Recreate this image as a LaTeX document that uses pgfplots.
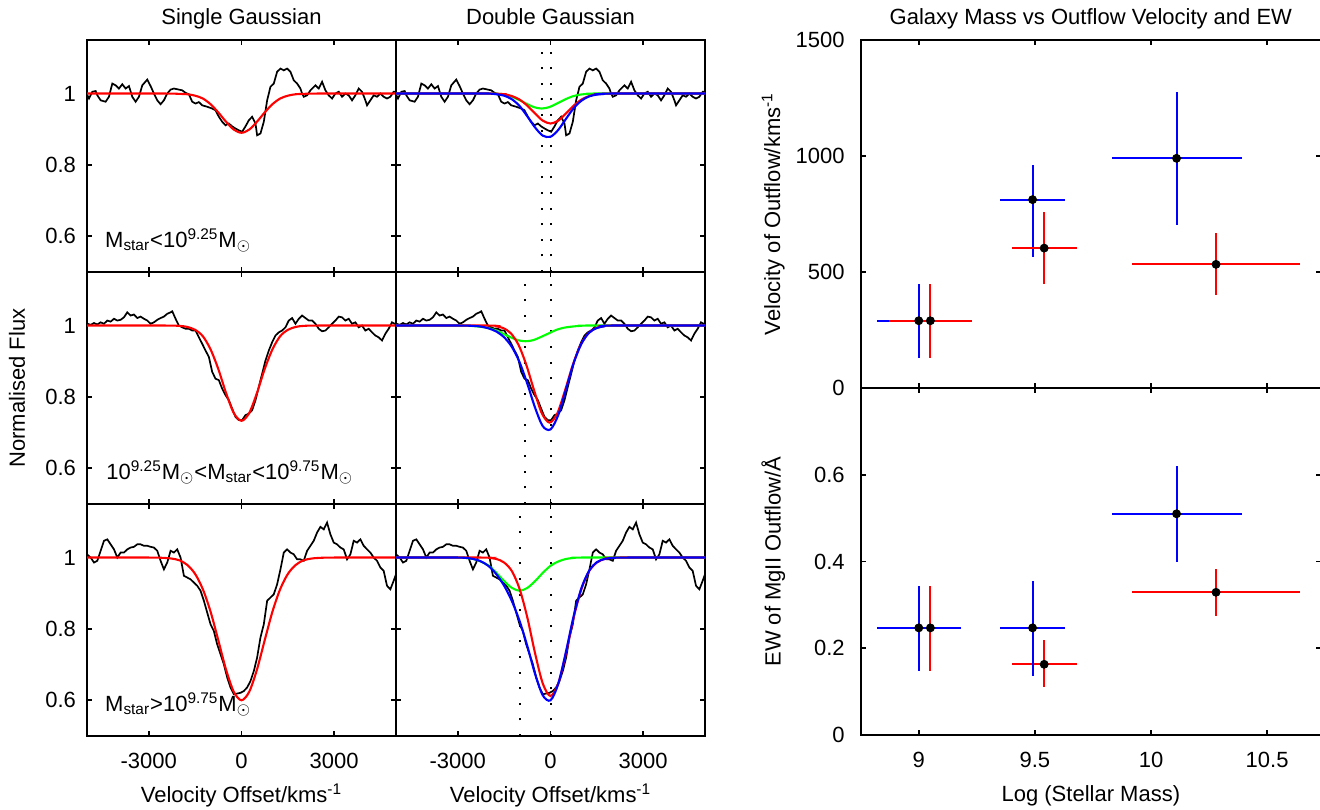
\documentclass[border=0pt]{standalone}
\usepackage{fontspec}
\setmainfont{Liberation Sans}
\usepackage{pgfplots}
\usepackage{pgfplotstable}
\pgfplotsset{compat=1.18}

% ---------------- spectra ----------------
\pgfplotstableread{
v f
-5000 0.997
-4935 0.986
-4828 1.005
-4720 1.007
-4666 0.995
-4558 0.981
-4397 0.977
-4289 0.991
-4181 1.028
-4073 1.023
-3966 1.014
-3858 1.026
-3750 1.014
-3642 1.021
-3535 0.991
-3427 0.977
-3319 0.991
-3211 1.023
-3050 1.039
-2942 1.021
-2834 1.000
-2726 0.981
-2619 0.970
-2511 0.981
-2403 1.000
-2295 1.011
-2188 1.014
-2026 1.011
-1918 1.009
-1810 1.002
-1703 0.998
-1595 0.977
-1487 0.972
-1379 0.976
-1272 0.967
-1110 0.963
-948 0.958
-841 0.953
-733 0.935
-625 0.921
-517 0.911
-409 0.916
-302 0.908
-194 0.902
-86 0.897
22 0.893
129 0.908
237 0.925
345 0.935
453 0.916
506 0.883
614 0.888
722 0.921
830 0.981
938 1.019
1045 1.028
1153 1.061
1261 1.070
1369 1.065
1476 1.070
1584 1.061
1692 1.037
1800 1.028
1907 1.014
1961 1.000
2015 0.991
2123 0.995
2231 1.009
2392 1.023
2500 1.014
2608 1.033
2716 1.009
2823 0.995
2931 0.986
3039 1.000
3147 1.005
3254 0.991
3362 1.000
3470 0.995
3578 0.981
3685 0.995
3793 1.014
3901 1.005
4009 0.981
4063 0.967
4170 0.981
4278 0.995
4386 0.991
4494 1.000
4601 0.991
4709 0.986
4817 0.991
4925 1.005
5000 1.005
}\specA

\pgfplotstableread{
v f
-4989 1.005
-4882 1.002
-4774 1.007
-4666 1.003
-4558 1.009
-4450 1.005
-4343 1.014
-4235 1.011
-4127 1.019
-4019 1.014
-3912 1.016
-3804 1.023
-3696 1.037
-3588 1.028
-3481 1.031
-3373 1.021
-3265 1.025
-3157 1.019
-3050 1.014
-2942 1.005
-2834 1.009
-2726 1.016
-2619 1.021
-2511 1.025
-2403 1.033
-2295 1.037
-2241 1.040
-2134 1.019
-2026 1.000
-1918 0.995
-1810 0.991
-1703 0.991
-1595 0.986
-1487 0.986
-1379 0.967
-1272 0.949
-1164 0.930
-1056 0.912
-948 0.870
-841 0.851
-733 0.847
-625 0.823
-517 0.805
-409 0.791
-302 0.767
-194 0.744
-86 0.735
22 0.735
129 0.749
237 0.753
345 0.763
453 0.791
560 0.828
668 0.865
776 0.902
884 0.930
991 0.953
1099 0.972
1207 0.981
1315 0.986
1422 0.995
1530 1.014
1638 1.021
1746 1.005
1854 1.019
1961 1.028
2069 1.021
2177 1.014
2285 1.014
2392 1.005
2500 0.991
2608 0.984
2716 0.986
2823 0.995
2931 1.005
3039 1.014
3147 1.025
3254 1.023
3362 1.014
3470 1.019
3578 1.005
3685 1.009
3793 0.995
3901 1.000
4009 0.986
4117 0.991
4224 0.981
4332 0.972
4440 0.967
4548 0.958
4655 0.977
4763 0.991
4871 1.009
5000 1.003
}\specB

\pgfplotstableread{
v f
-5000 1.009
-4882 1.000
-4774 0.986
-4666 0.991
-4558 1.019
-4450 1.047
-4343 1.051
-4235 1.037
-4127 1.023
-4019 1.000
-3912 1.014
-3804 1.014
-3696 1.023
-3588 1.028
-3481 1.030
-3373 1.037
-3265 1.037
-3157 1.033
-3050 1.033
-2942 1.030
-2834 1.028
-2726 1.019
-2619 0.991
-2511 0.967
-2403 0.986
-2295 1.019
-2188 1.014
-2080 1.023
-1972 1.000
-1864 0.949
-1756 0.944
-1649 0.939
-1541 0.930
-1433 0.921
-1325 0.907
-1218 0.879
-1110 0.846
-1002 0.813
-894 0.794
-787 0.757
-679 0.729
-571 0.701
-463 0.664
-356 0.636
-248 0.617
-140 0.619
-32 0.621
75 0.626
183 0.636
291 0.654
399 0.682
506 0.720
614 0.776
722 0.813
830 0.879
938 0.888
1045 0.897
1153 0.925
1261 0.967
1369 1.014
1476 1.023
1584 1.014
1692 1.009
1800 0.995
1907 0.995
2015 0.991
2123 1.019
2231 1.033
2338 1.047
2446 1.070
2554 1.086
2662 1.079
2769 1.098
2877 1.065
2985 1.042
3093 1.037
3200 1.028
3308 1.023
3416 0.995
3524 1.009
3632 1.047
3739 1.042
3847 1.051
3955 1.033
4063 1.023
4170 1.014
4278 1.000
4386 0.991
4494 0.972
4601 0.963
4709 0.921
4817 0.911
4925 0.935
5000 0.953
}\specC

% ---------------- single Gaussian fits ----------------
\pgfplotstableread{
v f
-5000 1.000
-2500 1.000
-2000 0.999
-1750 0.998
-1500 0.994
-1250 0.986
-1000 0.970
-750 0.947
-500 0.921
-250 0.899
0 0.890
250 0.899
500 0.921
750 0.947
1000 0.970
1250 0.986
1500 0.994
1750 0.998
2000 0.999
2500 1.000
5000 1.000
}\singA
\pgfplotstableread{
v f
-5000 1.000
-2500 1.000
-2000 0.999
-1750 0.996
-1500 0.988
-1250 0.970
-1000 0.933
-750 0.878
-500 0.811
-250 0.755
0 0.733
250 0.755
500 0.811
750 0.878
1000 0.933
1250 0.970
1500 0.988
1750 0.996
2000 0.999
2500 1.000
5000 1.000
}\singB
\pgfplotstableread{
v f
-5000 1.000
-3000 1.000
-2500 0.999
-2250 0.997
-2000 0.992
-1750 0.979
-1500 0.954
-1250 0.911
-1000 0.848
-750 0.768
-500 0.686
-250 0.624
0 0.600
250 0.624
500 0.686
750 0.768
1000 0.848
1250 0.911
1500 0.954
1750 0.979
2000 0.992
2250 0.997
2500 0.999
3000 1.000
5000 1.000
}\singC

% ---------------- double Gaussian fits ----------------
\pgfplotstableread{
v f
-5000 1.000
-2040 1.000
-1790 0.999
-1540 0.997
-1290 0.992
-1040 0.983
-790 0.972
-540 0.962
-290 0.958
-40 0.962
210 0.972
460 0.983
710 0.992
960 0.997
1210 0.999
1460 1.000
5000 1.000
}\grnA
\pgfplotstableread{
v f
-5000 1.000
-2000 1.000
-1750 0.999
-1500 0.998
-1250 0.993
-1000 0.983
-750 0.966
-500 0.944
-250 0.924
0 0.916
250 0.924
500 0.944
750 0.966
1000 0.983
1250 0.993
1500 0.998
1750 0.999
2000 1.000
5000 1.000
}\redA
\pgfplotstableread{
v f
-5000 1.000
-2500 1.000
-2000 1.000
-1750 0.998
-1500 0.994
-1250 0.984
-1000 0.965
-750 0.936
-500 0.905
-250 0.882
0 0.879
250 0.898
500 0.929
750 0.959
1000 0.980
1250 0.992
1500 0.997
1750 0.999
2000 1.000
5000 1.000
}\bluA

\pgfplotstableread{
v f
-5000 1.000
-3060 1.000
-2810 1.000
-2560 0.999
-2310 0.997
-2060 0.994
-1810 0.988
-1560 0.978
-1310 0.968
-1060 0.959
-810 0.956
-560 0.959
-310 0.968
-60 0.978
190 0.988
440 0.994
690 0.997
940 0.999
1190 1.000
5000 1.000
}\grnB
\pgfplotstableread{
v f
-5000 1.000
-2030 1.000
-1780 0.998
-1530 0.993
-1280 0.978
-1030 0.945
-780 0.889
-530 0.818
-280 0.754
-30 0.728
220 0.754
470 0.818
720 0.889
970 0.945
1220 0.978
1470 0.993
1720 0.998
1970 1.000
5000 1.000
}\redB
\pgfplotstableread{
v f
-5000 1.000
-3000 1.000
-2500 0.999
-2250 0.997
-2000 0.992
-1750 0.983
-1500 0.967
-1250 0.940
-1000 0.897
-750 0.837
-500 0.770
-250 0.718
0 0.709
250 0.749
500 0.821
750 0.895
1000 0.949
1250 0.980
1500 0.993
1750 0.998
2000 1.000
5000 1.000
}\bluB

\pgfplotstableread{
v f
-5000 1.000
-3000 1.000
-2750 0.999
-2500 0.996
-2250 0.989
-2000 0.977
-1750 0.957
-1500 0.934
-1250 0.915
-1000 0.907
-750 0.915
-500 0.934
-250 0.957
0 0.977
250 0.989
500 0.996
750 0.999
1000 1.000
5000 1.000
}\grnC
\pgfplotstableread{
v f
-5000 1.000
-2250 1.000
-2000 0.999
-1750 0.996
-1500 0.986
-1250 0.962
-1000 0.912
-750 0.832
-500 0.732
-250 0.647
0 0.612
250 0.647
500 0.732
750 0.832
1000 0.912
1250 0.962
1500 0.986
1750 0.996
2000 0.999
2250 1.000
5000 1.000
}\redC
\pgfplotstableread{
v f
-5000 1.000
-3000 1.000
-2500 0.996
-2250 0.989
-2000 0.976
-1750 0.953
-1500 0.921
-1250 0.878
-1000 0.822
-750 0.752
-500 0.674
-250 0.614
0 0.600
250 0.646
500 0.736
750 0.836
1000 0.914
1250 0.963
1500 0.987
1750 0.996
2000 0.999
2500 1.000
5000 1.000
}\bluC

% ---------------- mass vs outflow ----------------
\pgfplotstableread{
x y xp xm yp ym
9.00 290 0.18 0.18 157 159
9.49 812 0.14 0.14 149 249
10.11 990 0.28 0.28 287 289
}\velBlue
\pgfplotstableread{
x y xp xm yp ym
9.05 290 0.18 0.18 157 159
9.54 603 0.14 0.14 156 153
10.28 533 0.36 0.36 135 133
}\velRed
\pgfplotstableread{
x y xp xm yp ym
9.00 0.247 0.18 0.18 0.097 0.099
9.49 0.247 0.14 0.14 0.109 0.111
10.11 0.510 0.28 0.28 0.110 0.110
}\ewBlue
\pgfplotstableread{
x y xp xm yp ym
9.05 0.247 0.13 0.13 0.097 0.099
9.54 0.163 0.14 0.14 0.055 0.053
10.28 0.329 0.36 0.36 0.053 0.055
}\ewRed

\begin{document}
\begin{tikzpicture}[font=\fontsize{11}{13}\selectfont]
\pgfplotsset{
  base/.style={
    scale only axis, anchor=north west,
    axis line style={line width=1pt},
    every tick/.style={black, line width=0.9pt},
    major tick length=2.5pt,
    tick align=inside,
    xtick pos=both, ytick pos=both,
    /pgf/number format/assume math mode=true,
    /pgf/number format/1000 sep={},
    yticklabel style={xshift=-2pt},
    xticklabel style={yshift=-5pt},
    every axis title/.style={at={(axis description cs:0.5,1)}, anchor=base, yshift=8pt},
    every axis x label/.style={at={(axis description cs:0.5,0)}, anchor=base, yshift=-33pt},
  },
  spec/.style={base, width=154.5pt, height=116pt,
    xmin=-5000, xmax=5000, ymin=0.5, ymax=1.15,
    xtick={-3000,0,3000}, ytick={0.6,0.8,1}},
  dat/.style={black, line width=0.85pt, mark=none},
  fr/.style={red, line width=1.05pt, mark=none, smooth},
  fg/.style={green, line width=1.05pt, mark=none, smooth},
  fb/.style={blue, line width=1.05pt, mark=none, smooth},
  dots/.style={black, line width=1pt, dash pattern=on 1pt off 6.8pt, mark=none},
  mass/.style={base, width=230.15pt, xmin=8.75, xmax=10.732,
    xtick={9,9.5,10,10.5}, yticklabel style={xshift=-2.5pt},
    every axis y label/.style={at={(axis description cs:-0.19,0.5)}, rotate=90, anchor=center}},
  ebar/.style={only marks, mark=none,
    error bars/.cd, x dir=both, x explicit, y dir=both, y explicit,
    error mark=none, error bar style={draw=#1, line width=1pt, solid}},
  dotm/.style={only marks, mark=*, mark size=1.7pt, black, mark options={fill=black}},
}

% ---- row 1 ----
\begin{axis}[spec, at={(43.5pt,-20pt)}, title={Single Gaussian}, xticklabels={}]
\addplot[dat] table[x=v,y=f] {\specA};
\addplot[fr] table[x=v,y=f] {\singA};
\node[anchor=base west] at (axis cs:-4640,0.57) {M\textsubscript{star}<10\textsuperscript{9.25}M\textsubscript{$\odot$}};
\end{axis}
\begin{axis}[spec, at={(198pt,-20pt)}, title={Double Gaussian}, xticklabels={}, yticklabels={}]
\addplot[dots] coordinates {(-290,0.5) (-290,1.15)};
\addplot[dots] coordinates {(0,0.5) (0,1.15)};
\addplot[dat] table[x=v,y=f] {\specA};
\addplot[fg] table[x=v,y=f] {\grnA};
\addplot[fr] table[x=v,y=f] {\redA};
\addplot[fb] table[x=v,y=f] {\bluA};
\end{axis}

% ---- row 2 ----
\begin{axis}[spec, at={(43.5pt,-136pt)}, xticklabels={}]
\addplot[dat] table[x=v,y=f] {\specB};
\addplot[fr] table[x=v,y=f] {\singB};
\node[anchor=base west] at (axis cs:-4600,0.57) {10\textsuperscript{9.25}M\textsubscript{$\odot$}<M\textsubscript{star}<10\textsuperscript{9.75}M\textsubscript{$\odot$}};
\end{axis}
\begin{axis}[spec, at={(198pt,-136pt)}, xticklabels={}, yticklabels={}]
\addplot[dots] coordinates {(-810,0.5) (-810,1.15)};
\addplot[dots] coordinates {(0,0.5) (0,1.15)};
\addplot[dat] table[x=v,y=f] {\specB};
\addplot[fg] table[x=v,y=f] {\grnB};
\addplot[fr] table[x=v,y=f] {\redB};
\addplot[fb] table[x=v,y=f] {\bluB};
\end{axis}

% ---- row 3 ----
\begin{axis}[spec, at={(43.5pt,-252pt)}, xlabel={Velocity Offset/kms\textsuperscript{-1}}]
\addplot[dat] table[x=v,y=f] {\specC};
\addplot[fr] table[x=v,y=f] {\singC};
\node[anchor=base west] at (axis cs:-4640,0.57) {M\textsubscript{star}>10\textsuperscript{9.75}M\textsubscript{$\odot$}};
\end{axis}
\begin{axis}[spec, at={(198pt,-252pt)}, yticklabels={}, xlabel={Velocity Offset/kms\textsuperscript{-1}}]
\addplot[dots] coordinates {(-1000,0.5) (-1000,1.15)};
\addplot[dots] coordinates {(0,0.5) (0,1.15)};
\addplot[dat] table[x=v,y=f] {\specC};
\addplot[fg] table[x=v,y=f] {\grnC};
\addplot[fr] table[x=v,y=f] {\redC};
\addplot[fb] table[x=v,y=f] {\bluC};
\end{axis}

\node[rotate=90, anchor=center] at (8.5pt,-194pt) {Normalised Flux};

% ---- right: velocity ----
\begin{axis}[mass, at={(430.35pt,-20pt)}, height=174pt, ymin=0, ymax=1500,
  ytick={0,500,1000,1500}, xticklabels={},
  title={Galaxy Mass vs Outflow Velocity and EW},
  ylabel={Velocity of Outflow/kms\textsuperscript{-1}}]
\addplot[ebar=blue] table[x=x,y=y,x error plus=xp,x error minus=xm,y error plus=yp,y error minus=ym] {\velBlue};
\addplot[ebar=red] table[x=x,y=y,x error plus=xp,x error minus=xm,y error plus=yp,y error minus=ym] {\velRed};
\addplot[dotm] table[x=x,y=y] {\velBlue};
\addplot[dotm] table[x=x,y=y] {\velRed};
\end{axis}

% ---- right: EW ----
\begin{axis}[mass, at={(430.35pt,-194pt)}, height=173.5pt, ymin=0, ymax=0.8,
  ytick={0,0.2,0.4,0.6},
  xlabel={Log (Stellar Mass)},
  ylabel={EW of MgII Outflow/Å}]
\addplot[ebar=red] table[x=x,y=y,x error plus=xp,x error minus=xm,y error plus=yp,y error minus=ym] {\ewRed};
\addplot[ebar=blue] table[x=x,y=y,x error plus=xp,x error minus=xm,y error plus=yp,y error minus=ym] {\ewBlue};
\addplot[dotm] table[x=x,y=y] {\ewBlue};
\addplot[dotm] table[x=x,y=y] {\ewRed};
\end{axis}

\pgfresetboundingbox
\useasboundingbox (0pt,0pt) rectangle (660pt,-404.5pt);
\end{tikzpicture}
\end{document}
